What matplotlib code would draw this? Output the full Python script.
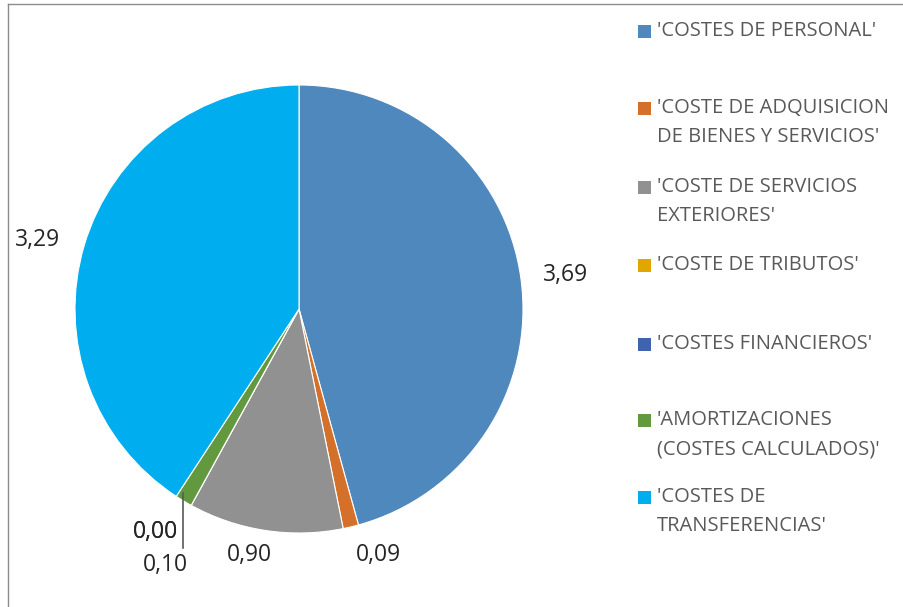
import matplotlib
matplotlib.use("Agg")
import matplotlib.pyplot as plt
import numpy as np

plt.rcParams['font.family'] = ['Open Sans', 'DejaVu Sans']

categories = ["'COSTES DE PERSONAL'",
              "'COSTE DE ADQUISICION\nDE BIENES Y SERVICIOS'",
              "'COSTE DE SERVICIOS\nEXTERIORES'",
              "'COSTE DE TRIBUTOS'",
              "'COSTES FINANCIEROS'",
              "'AMORTIZACIONES\n(COSTES CALCULADOS)'",
              "'COSTES DE\nTRANSFERENCIAS'"]
values = [3.69, 0.09, 0.90, 0.00, 0.00, 0.10, 3.29]
value_labels = ["3,69", "0,09", "0,90", "0,00", "0,00", "0,10", "3,29"]
colors = ["#4f88bd", "#d4702a", "#919191", "#e2a600", "#3d64ac", "#62993e", "#00aeef"]

W, H = 904, 607
fig = plt.figure(figsize=(W / 100, H / 100), dpi=100)
ax = fig.add_axes([0, 0, 1, 1])

cx, cy, r = 299, H - 309, 224
wedges, _ = ax.pie(values, colors=colors, startangle=90, counterclock=False,
                   center=(cx, cy), radius=r, frame=True,
                   wedgeprops=dict(linewidth=0.8, edgecolor='white'))
ax.set_xlim(0, W)
ax.set_ylim(0, H)
ax.set_aspect('auto')
ax.axis('off')

lab_color = '#262626'
fs = 16.5
# label positions (pixels)
pos = {0: (566, 275), 1: (378, 555), 2: (249, 555), 3: (156, 532), 4: (156, 532), 5: (165, 565), 6: (38, 240)}
for i, t in enumerate(value_labels):
    x, y = pos[i]
    ax.text(x, H - y, t, ha='center', va='center', fontsize=fs, color=lab_color)

# leader line for the small slices
ax.plot([183, 183], [H - 493, H - 548], color='#595959', lw=1.2)

# legend
leg_first = [31, 108, 187, 265, 344, 420, 497]
line_gap = 29
for i, (c, lbl) in enumerate(zip(colors, categories)):
    lines = lbl.split('\n')
    y0 = leg_first[i]
    ax.add_patch(plt.Rectangle((638, H - y0 - 6.5), 13, 13, color=c, lw=0))
    for k, ln in enumerate(lines):
        ax.text(657, H - (y0 + k * line_gap), ln, ha='left', va='center',
                fontsize=14.5, color='#595959')

# border
ax.plot([8, 8], [0, H - 4], color='#8c8c8c', lw=1)
ax.plot([8, W], [H - 4, H - 4], color='#8c8c8c', lw=1)

fig.savefig('out.png', dpi=100)
